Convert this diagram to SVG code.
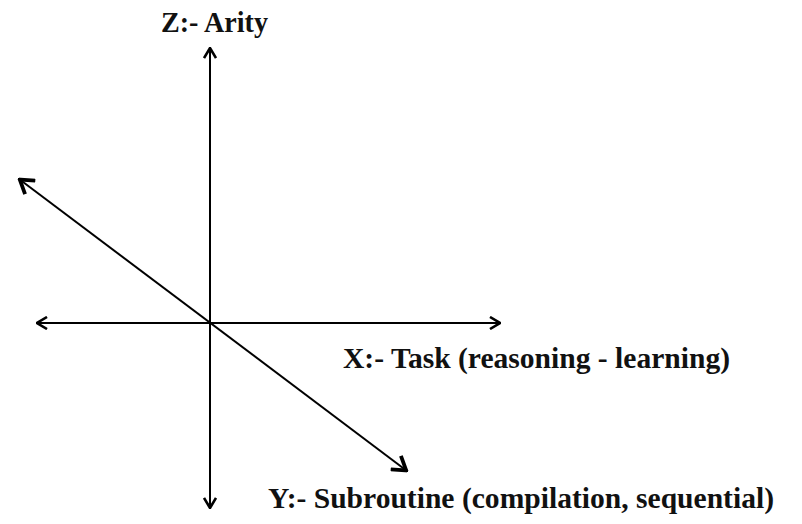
<svg xmlns="http://www.w3.org/2000/svg" width="802" height="524" viewBox="0 0 802 524">
<style>
.axis{fill:none;stroke:#000;stroke-width:2}
.lbl{font-family:"Liberation Serif",Tinos,"Times New Roman",serif;font-weight:bold;font-size:29px;fill:#111}
</style>
<defs>
<marker id="chev" viewBox="0 0 12 14" refX="11" refY="7" markerWidth="12" markerHeight="14" markerUnits="userSpaceOnUse" orient="auto-start-reverse">
<path d="M1,1 L11,7 L1,13" fill="none" stroke="#000" stroke-width="2.6" stroke-linejoin="miter"/>
</marker>
<marker id="chevB" viewBox="0 0 16 20" refX="15" refY="10" markerWidth="16" markerHeight="20" markerUnits="userSpaceOnUse" orient="auto-start-reverse">
<path d="M1,1.5 L14,10 L1,18.5" fill="none" stroke="#000" stroke-width="3.8" stroke-linejoin="miter"/>
</marker>
</defs>
<rect width="802" height="524" fill="#fff"/>
<g id="connectors">
<line class="axis" x1="210" y1="48" x2="210" y2="508" marker-start="url(#chev)" marker-end="url(#chev)"/>
<line class="axis" x1="37" y1="323" x2="500" y2="323" marker-start="url(#chev)" marker-end="url(#chev)"/>
<line class="axis" x1="19" y1="179" x2="407" y2="471" stroke-width="3" marker-start="url(#chevB)" marker-end="url(#chevB)"/>
</g>
<g id="z-label"><text class="lbl" x="161" y="32" textLength="107" lengthAdjust="spacingAndGlyphs">Z:- Arity</text></g>
<g id="x-label"><text class="lbl" x="343" y="368" textLength="387" lengthAdjust="spacingAndGlyphs">X:- Task (reasoning - learning)</text></g>
<g id="y-label"><text class="lbl" x="268" y="508" textLength="506" lengthAdjust="spacingAndGlyphs">Y:- Subroutine (compilation, sequential)</text></g>
</svg>
